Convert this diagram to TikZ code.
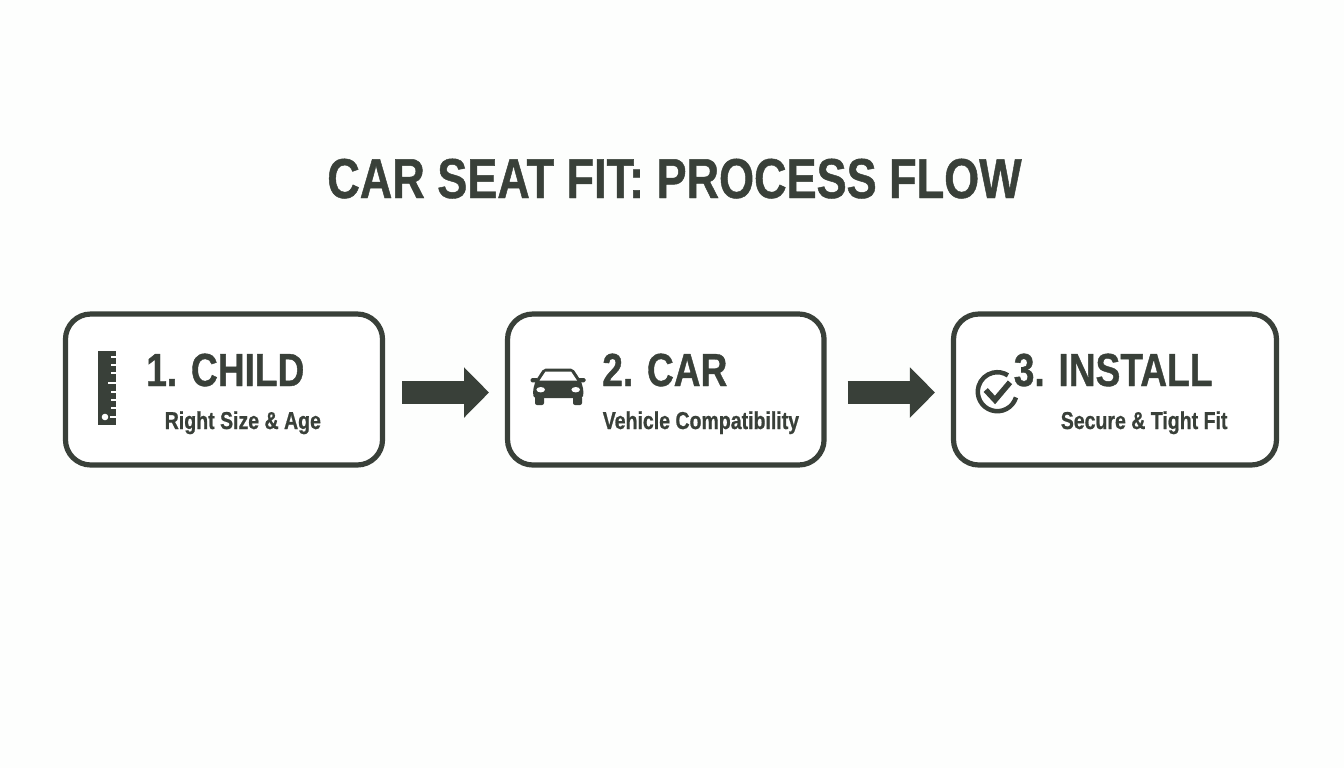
\documentclass[tikz,border=0pt]{standalone}
\usepackage{fontspec}
\setmainfont[FakeStretch=0.8,BoldFeatures={FakeBold=0.8}]{Liberation Sans}
\usetikzlibrary{arrows.meta}
\definecolor{inkgreen}{HTML}{394039}
\definecolor{paperwhite}{HTML}{FDFEFD}
\tikzset{
  stepbox/.style={draw=inkgreen, line width=3.9pt, rounded corners=19pt, fill=white, outer sep=0pt, minimum height=113.25pt},
  headtext/.style={anchor=base west, inner sep=0pt, text=inkgreen, font=\fontsize{34.8}{40}\selectfont\bfseries},
  subtext/.style={anchor=base west, inner sep=0pt, text=inkgreen, font=\fontsize{18.3}{22}\selectfont\bfseries},
  flowarrow/.style={draw=inkgreen, line width=17.25pt, -{Triangle[width=36.75pt,length=18.75pt]}}
}
\begin{document}
\begin{tikzpicture}[x=0.75pt,y=-0.75pt]
\useasboundingbox (0,0) rectangle (1344,768);
\fill[paperwhite] (0,0) rectangle (1344,768);
\node[inner sep=0pt, text=inkgreen, anchor=base, font=\fontsize{42.2}{50}\selectfont\bfseries] (title) at (674.5,198) {CAR SEAT FIT: PROCESS FLOW};
% the three boxes
\node[stepbox, minimum width=237.8pt] (child) at (224,389.5) {};
\node[stepbox, minimum width=237.4pt] (car) at (665.8,389.5) {};
\node[stepbox, minimum width=242.25pt] (install) at (1115,389.5) {};
\draw[flowarrow, shorten <=14.6pt, shorten >=13.9pt] ([yshift=-2.25pt]child.east) -- ([yshift=-2.25pt]car.west);
\draw[flowarrow, shorten <=17.6pt, shorten >=13.9pt] ([yshift=-2.25pt]car.east) -- ([yshift=-2.25pt]install.west);
% box texts
\node[headtext] (childhead) at (146,386) {1. CHILD};
\node[subtext] (childsub) at (164.5,429) {Right Size \& Age};
\node[headtext] (carhead) at (602,386) {2. CAR};
\node[subtext] (carsub) at (602.5,429) {Vehicle Compatibility};
\node[headtext] (installhead) at (1013.5,386) {3. INSTALL};
\node[subtext] (installsub) at (1060.5,429) {Secure \& Tight Fit};
% ruler icon
\fill[inkgreen] (97.5,350.5) rectangle (116,425);
\foreach \y/\x in {356.7/110.7,365/110.7,373/110.7,383.3/107.7,391.7/110.7,400/110.7,408/110.7,417.3/110} % notches on the edge
\draw[white, line width=1.4pt] (116.5,\y) -- (\x,\y);
\fill[white] (105,417) circle (3.3);
% car icon
\fill[inkgreen, rounded corners=1.5pt] (543.5,368.7) -- (573,368.7) -- (581,381) -- (583.5,390) -- (583,398) -- (533.5,398) -- (533,390) -- (535.5,381) -- cycle;
\fill[inkgreen, rounded corners=1pt] (530.7,378) rectangle (538,382.3);
\fill[inkgreen, rounded corners=1pt] (578,378) rectangle (585.5,382.3);
\fill[inkgreen, rounded corners=1.5pt] (535,396) rectangle (544,405);
\fill[inkgreen, rounded corners=1.5pt] (573,396) rectangle (582,405);
\fill[white] (539.5,380.5) -- (545.5,371.5) -- (571,371.5) -- (577,380.5) -- cycle;
\fill[white] (540.7,389.7) ellipse (4.3 and 2.7);
\fill[white] (575.7,389.7) ellipse (4.3 and 2.7);
% check icon
\draw[inkgreen, line width=3.4pt] (997.3,391.7) ++(17:19.5) arc[start angle=17, end angle=303, radius=19.5];
\draw[inkgreen, line width=4.2pt] (985.7,390) -- (995,400) -- (1010,382.3);
\end{tikzpicture}
\end{document}
